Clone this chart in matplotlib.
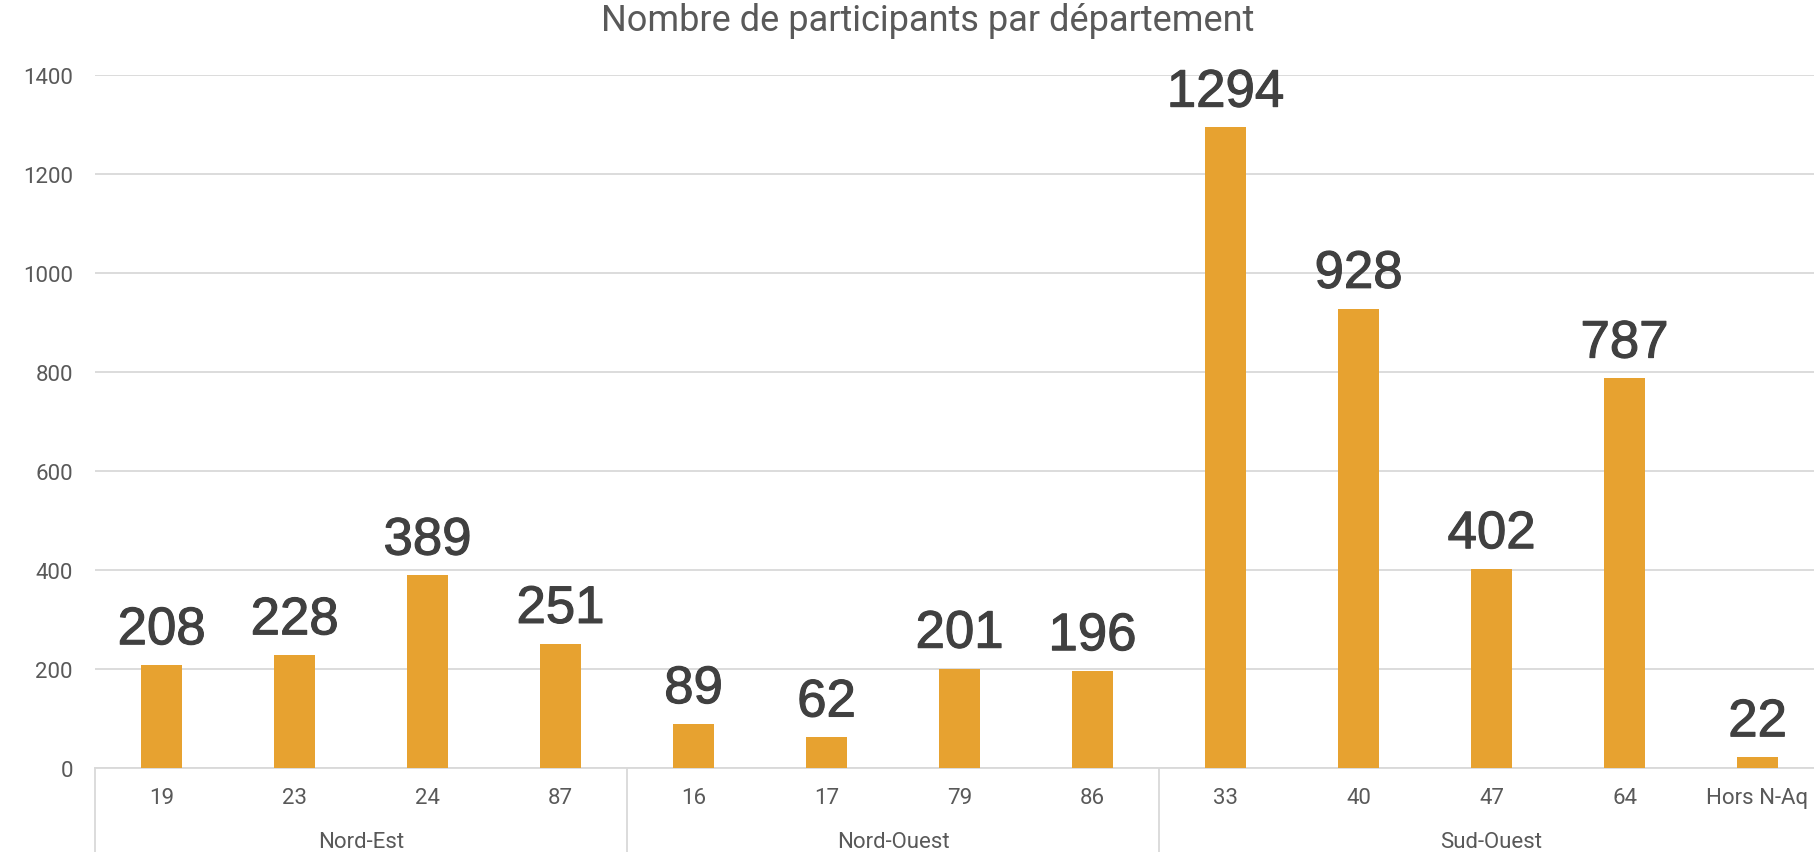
import matplotlib
matplotlib.use("Agg")
import matplotlib.pyplot as plt
import matplotlib.transforms as mtransforms
import matplotlib.patheffects as pe

# --- données ---
departements = ["19", "23", "24", "87", "16", "17", "79", "86", "33", "40", "47", "64", "Hors N-Aq"]
participants = [208, 228, 389, 251, 89, 62, 201, 196, 1294, 928, 402, 787, 22]
groupes = ["Nord-Est", "Nord-Ouest", "Sud-Ouest"]
taille_groupes = [4, 4, 5]

BAR_COLOR = "#E7A230"
GRID_COLOR = "#D9D9D9"
TEXT_COLOR = "#595959"
LABEL_COLOR = "#404040"
NARROW = ["Roboto", "DejaVu Sans"]

fig = plt.figure(figsize=(18.14, 8.53), dpi=100)
W, H = 1814, 853
# l'axe déborde un peu à droite, comme sur l'original
ax = fig.add_axes([95 / W, 84 / H, 13 * 133 / W, 693 / H])

x = list(range(len(departements)))
ax.bar(x, participants, width=0.315, color=BAR_COLOR, zorder=3)

ax.set_xlim(-0.5, len(departements) - 0.5)
ax.set_ylim(0, 1400)
ax.set_yticks(range(0, 1401, 200))
ax.yaxis.grid(True, color=GRID_COLOR, linewidth=1.3, zorder=0)
ax.tick_params(axis="y", length=0, pad=16, labelcolor=TEXT_COLOR)
for lab in ax.get_yticklabels():
    lab.set_fontfamily(NARROW)
    lab.set_fontsize(16)
ax.set_xticks([])
for s in ["top", "right", "left"]:
    ax.spines[s].set_visible(False)
ax.spines["bottom"].set_color(GRID_COLOR)
ax.spines["bottom"].set_linewidth(1.3)

# étiquettes des valeurs
for xi, v in zip(x, participants):
    ax.annotate(str(v), (xi, v), xytext=(0, 15), textcoords="offset points",
                ha="center", va="baseline", fontsize=38, color=LABEL_COLOR,
                family="Liberation Sans", clip_on=False,
                path_effects=[pe.withStroke(linewidth=0.8, foreground=LABEL_COLOR)])

# axe des catégories à deux niveaux
trans = mtransforms.blended_transform_factory(ax.transData, ax.transAxes)
for xi, d in zip(x, departements):
    ax.text(xi, -0.042, d, transform=trans, ha="center", va="center",
            fontsize=16, color=TEXT_COLOR, family=NARROW)

debut = 0
for g, n in zip(groupes, taille_groupes):
    ax.plot([debut - 0.5, debut - 0.5], [0, -0.125], transform=trans,
            color=GRID_COLOR, linewidth=1.3, clip_on=False)
    ax.text(debut + (n - 1) / 2, -0.106, g, transform=trans, ha="center",
            va="center", fontsize=16, color=TEXT_COLOR, family=NARROW)
    debut += n

fig.text(928 / W, 1 - 21 / H, "Nombre de participants par département", ha="center",
         va="center", fontsize=26, color=TEXT_COLOR, family=NARROW)

fig.savefig("out.png", dpi=100)
